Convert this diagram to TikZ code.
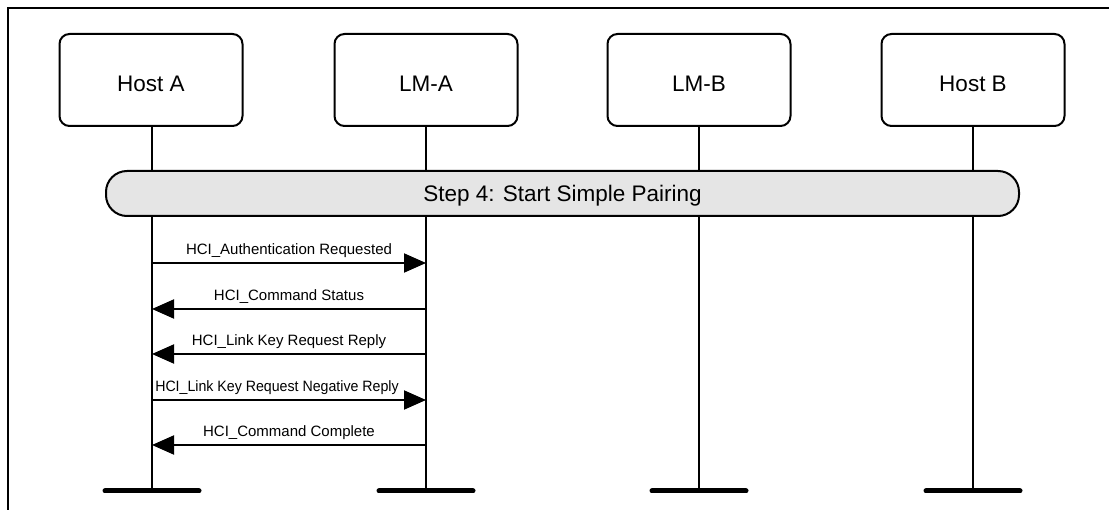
\documentclass[tikz,border=0pt]{standalone}
\usepackage{fontspec}
\setmainfont{Liberation Sans}
\usetikzlibrary{arrows.meta}
\begin{document}
\begin{tikzpicture}[x=1pt,y=-1pt,
  entity/.style={draw, line width=2pt, rounded corners=10pt, minimum width=183pt, minimum height=92pt,
    inner sep=0pt, font=\fontsize{22.5}{26}\selectfont, text height=24pt, text depth=0pt},
  stepbar/.style={draw, line width=2pt, rounded corners=21pt, fill=black!10, minimum width=913pt,
    minimum height=45pt, inner sep=0pt, font=\fontsize{22.5}{26}\selectfont, text height=17pt, text depth=0pt},
  lifeline/.style={line width=2pt},
  endbar/.style={line width=5pt, line cap=round},
  msgarrow/.style={line width=2pt, -{Triangle[length=22pt,width=19pt]}},
  msglabel/.style={font=\fontsize{15}{18}\selectfont, anchor=base, yshift=8pt, inner sep=0pt},
  frameline/.style={line width=2.5pt}
]
\useasboundingbox (0,0) rectangle (1109,510);
% frame
\coordinate (fl) at (8,510);
\coordinate (fc) at (8,8);
\coordinate (fr) at (1109,8);
\draw[frameline] (fl) -- (fc) -- (fr);

% entities
\node[entity] (hA) at (151,80) {Host A};
\node[entity] (lA) at (426,80) {LM-A};
\node[entity] (lB) at (699,80) {LM-B};
\node[entity] (hB) at (973,80) {Host B};

% lifeline ends
\coordinate (ehA) at (152,491);
\coordinate (elA) at (426,491);
\coordinate (elB) at (699,491);
\coordinate (ehB) at (973,491);

\draw[lifeline] (hA.south -| ehA) -- (ehA);
\draw[lifeline] (lA.south) -- (elA);
\draw[lifeline] (lB.south) -- (elB);
\draw[lifeline] (hB.south) -- (ehB);

\draw[endbar] ([xshift=-47pt]ehA) -- ([xshift=47pt]ehA);
\draw[endbar] ([xshift=-47pt]elA) -- ([xshift=47pt]elA);
\draw[endbar] ([xshift=-47pt]elB) -- ([xshift=47pt]elB);
\draw[endbar] ([xshift=-47pt]ehB) -- ([xshift=47pt]ehB);

% step bar
\node[stepbar] (step) at (562.5,193.5) {Step 4: Start Simple Pairing};

% messages
\coordinate (a1) at (152,263); \coordinate (b1) at (426,263);
\coordinate (a2) at (152,309); \coordinate (b2) at (426,309);
\coordinate (a3) at (152,354); \coordinate (b3) at (426,354);
\coordinate (a4) at (152,400); \coordinate (b4) at (426,400);
\coordinate (a5) at (152,445); \coordinate (b5) at (426,445);

\draw[msgarrow] (a1) -- (b1) node[msglabel, midway] (m1) {HCI\_Authentication Requested};
\draw[msgarrow] (b2) -- (a2) node[msglabel, midway] (m2) {HCI\_Command Status};
\draw[msgarrow] (b3) -- (a3) node[msglabel, midway] (m3) {HCI\_Link Key Request Reply};
\draw[msgarrow] (a4) -- (b4) node[msglabel, midway, xshift=-12pt, xscale=0.945] (m4) {HCI\_Link Key Request Negative Reply};
\draw[msgarrow] (b5) -- (a5) node[msglabel, midway] (m5) {HCI\_Command Complete};
\end{tikzpicture}
\end{document}
